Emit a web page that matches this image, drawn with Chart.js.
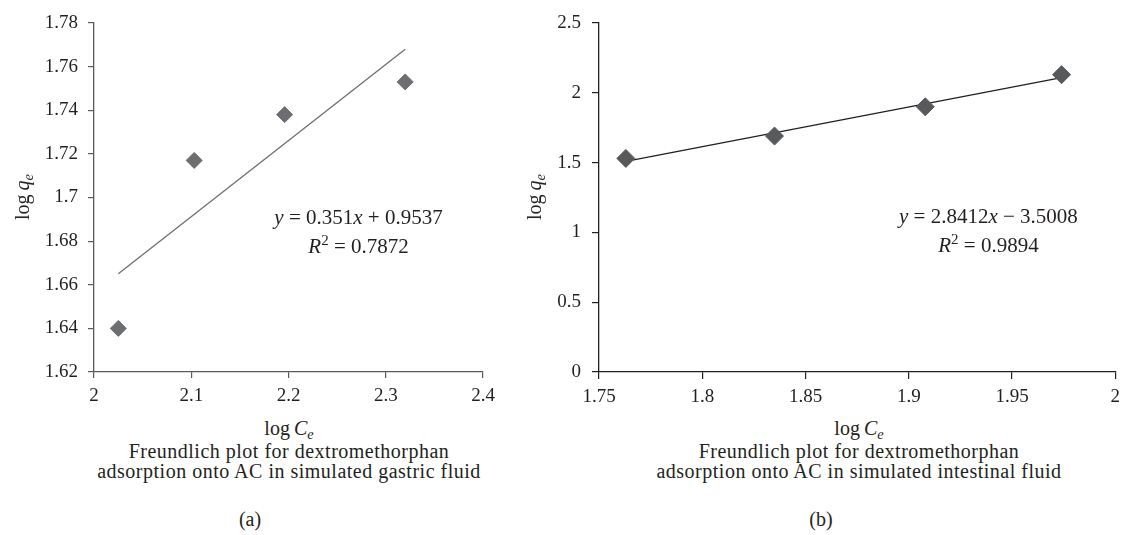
<!DOCTYPE html>
<html>
<head>
<meta charset="utf-8">
<script src="https://cdn.jsdelivr.net/npm/chart.js"></script>
<title>Freundlich plots</title>
<style>
  body { margin: 0; background: #fff; font-family: "Liberation Serif", serif; color: #231f20; }
  #wrap { position: relative; width: 1127px; height: 535px; overflow: hidden; }
  canvas { position: absolute; top: 0; }
  .txt { position: absolute; white-space: nowrap; text-align: center; font-size: 20px; line-height: 20px; transform: translateX(-50%); }
  .cap { letter-spacing: 0.5px; }
  .ytitle { position: absolute; white-space: nowrap; font-size: 20px; line-height: 20px; transform: translate(-50%, -50%) rotate(-90deg); }
  i { font-style: italic; }
  sub { font-size: 0.72em; line-height: 0; vertical-align: -0.3em; }
</style>
</head>
<body>
<div id="wrap">
  <canvas id="gastric" width="520" height="410" style="left:0"></canvas>
  <canvas id="intestinal" width="607" height="410" style="left:520px"></canvas>

  <div class="ytitle" style="left:22px; top:197px">log&thinsp;<i>q</i><sub><i>e</i></sub></div>
  <div class="ytitle" style="left:534px; top:197px">log&thinsp;<i>q</i><sub><i>e</i></sub></div>

  <div class="txt" style="left:289px; top:418px">log&thinsp;<i>C</i><sub><i>e</i></sub></div>
  <div class="txt cap" style="left:289px; top:441px">Freundlich plot for dextromethorphan<br>adsorption onto AC in simulated gastric fluid</div>
  <div class="txt" style="left:250px; top:509px">(a)</div>

  <div class="txt" style="left:859px; top:418px">log&thinsp;<i>C</i><sub><i>e</i></sub></div>
  <div class="txt cap" style="left:859px; top:441px">Freundlich plot for dextromethorphan<br>adsorption onto AC in simulated intestinal fluid</div>
  <div class="txt" style="left:821px; top:509px">(b)</div>
</div>

<script>
  // (a) simulated gastric fluid
  const gastricLogCe = [2.025, 2.103, 2.196, 2.320];
  const gastricLogQe = [1.640, 1.717, 1.738, 1.753];
  const gastricTrendX = [2.025, 2.320];
  const gastricTrendY = [1.665, 1.768];
  const gastricXTicks = [2, 2.1, 2.2, 2.3, 2.4];
  const gastricXLabels = ['2', '2.1', '2.2', '2.3', '2.4'];
  const gastricYTicks = [1.62, 1.64, 1.66, 1.68, 1.70, 1.72, 1.74, 1.76, 1.78];
  const gastricYLabels = ['1.62', '1.64', '1.66', '1.68', '1.7', '1.72', '1.74', '1.76', '1.78'];
  const gastricEq = ['0.351', '0.9537', '0.7872'];

  // (b) simulated intestinal fluid
  const intestinalLogCe = [1.763, 1.835, 1.908, 1.974];
  const intestinalLogQe = [1.53, 1.69, 1.90, 2.13];
  const intestinalTrendX = [1.763, 1.974];
  const intestinalTrendY = [1.508, 2.108];
  const intestinalXTicks = [1.75, 1.8, 1.85, 1.9, 1.95, 2];
  const intestinalXLabels = ['1.75', '1.8', '1.85', '1.9', '1.95', '2'];
  const intestinalYTicks = [0, 0.5, 1, 1.5, 2, 2.5];
  const intestinalYLabels = ['0', '0.5', '1', '1.5', '2', '2.5'];
  const intestinalEq = ['2.8412', '3.5008', '0.9894'];

  const FONT = '"Liberation Serif", serif';
  const TEXT = '#231f20';

  // draws text runs (normal / italic / superscript) centred on cx
  function drawRuns(ctx, runs, cx, baseY) {
    const fontFor = s => (s === 'i' ? 'italic ' : '') + (s === 'sup' ? '15px ' : '21px ') + FONT;
    let total = 0;
    runs.forEach(r => { ctx.font = fontFor(r[1]); total += ctx.measureText(r[0]).width; });
    let x = cx - total / 2;
    runs.forEach(r => {
      ctx.font = fontFor(r[1]);
      ctx.fillText(r[0], x, r[1] === 'sup' ? baseY - 8 : baseY);
      x += ctx.measureText(r[0]).width;
    });
  }

  const eqPlugin = {
    id: 'eq',
    afterDatasetsDraw(chart, args, opts) {
      const ctx = chart.ctx;
      const cx = chart.scales.x.getPixelForValue(opts.at[0]);
      const cy = chart.scales.y.getPixelForValue(opts.at[1]);
      ctx.save();
      ctx.fillStyle = TEXT;
      ctx.textBaseline = 'alphabetic';
      ctx.textAlign = 'left';
      opts.lines.forEach((runs, i) => drawRuns(ctx, runs, cx, cy + i * 29));
      ctx.restore();
    }
  };

  function makeChart(id, cfg) {
    const axis = (ticks, labels, extra) => Object.assign({
      type: 'linear',
      min: ticks[0],
      max: ticks[ticks.length - 1],
      afterBuildTicks: s => { s.ticks = ticks.map(v => ({ value: v })); },
      ticks: {
        callback: (v, i) => labels[i],
        font: { family: FONT, size: 19 },
        color: TEXT,
        autoSkip: false,
        maxRotation: 0
      },
      grid: { drawOnChartArea: false, drawTicks: true, tickLength: cfg.tick, color: cfg.axisColor, lineWidth: 1.2 },
      border: { color: cfg.axisColor, width: 1.3 }
    }, extra);

    const xAxis = axis(cfg.xTicks, cfg.xLabels, { afterFit: s => { s.height = 38; } });
    xAxis.ticks.padding = 7;
    const yAxis = axis(cfg.yTicks, cfg.yLabels, { afterFit: s => { s.width = cfg.yWidth; } });
    yAxis.ticks.padding = cfg.yPad;

    return new Chart(document.getElementById(id), {
      type: 'scatter',
      data: {
        datasets: [
          {
            data: cfg.trendX.map((v, i) => ({ x: v, y: cfg.trendY[i] })),
            showLine: true,
            borderColor: cfg.lineColor,
            borderWidth: 1.3,
            pointRadius: 0,
            order: 2
          },
          {
            data: cfg.xs.map((v, i) => ({ x: v, y: cfg.ys[i] })),
            pointStyle: 'rectRot',
            pointRadius: cfg.radius,
            backgroundColor: cfg.pointColor,
            borderColor: cfg.pointColor,
            borderWidth: 1,
            showLine: false,
            order: 1
          }
        ]
      },
      options: {
        responsive: false,
        maintainAspectRatio: false,
        animation: false,
        layout: { padding: { left: 0, right: cfg.padRight, top: 23, bottom: 0 } },
        plugins: {
          legend: { display: false },
          tooltip: { enabled: false },
          eq: { at: cfg.eqAt, lines: cfg.eqLines }
        },
        scales: { x: xAxis, y: yAxis }
      },
      plugins: [eqPlugin]
    });
  }

  makeChart('gastric', {
    xs: gastricLogCe, ys: gastricLogQe,
    trendX: gastricTrendX, trendY: gastricTrendY,
    xTicks: gastricXTicks, xLabels: gastricXLabels,
    yTicks: gastricYTicks, yLabels: gastricYLabels,
    yWidth: 94, yPad: 10, tick: 6, padRight: 37, radius: 8,
    axisColor: '#58595b', lineColor: '#6d6e71', pointColor: '#6d6e71',
    eqAt: [2.272, 1.688],
    eqLines: [
      [['y', 'i'], [' = ' + gastricEq[0], 'n'], ['x', 'i'], [' + ' + gastricEq[1], 'n']],
      [['R', 'i'], ['2', 'sup'], [' = ' + gastricEq[2], 'n']]
    ]
  });

  makeChart('intestinal', {
    xs: intestinalLogCe, ys: intestinalLogQe,
    trendX: intestinalTrendX, trendY: intestinalTrendY,
    xTicks: intestinalXTicks, xLabels: intestinalXLabels,
    yTicks: intestinalYTicks, yLabels: intestinalYLabels,
    yWidth: 79, yPad: 11, tick: 7, padRight: 7, radius: 9,
    axisColor: '#231f20', lineColor: '#231f20', pointColor: '#58595b',
    eqAt: [1.9386, 1.064],
    eqLines: [
      [['y', 'i'], [' = ' + intestinalEq[0], 'n'], ['x', 'i'], [' \u2212 ' + intestinalEq[1], 'n']],
      [['R', 'i'], ['2', 'sup'], [' = ' + intestinalEq[2], 'n']]
    ]
  });
</script>
</body>
</html>
